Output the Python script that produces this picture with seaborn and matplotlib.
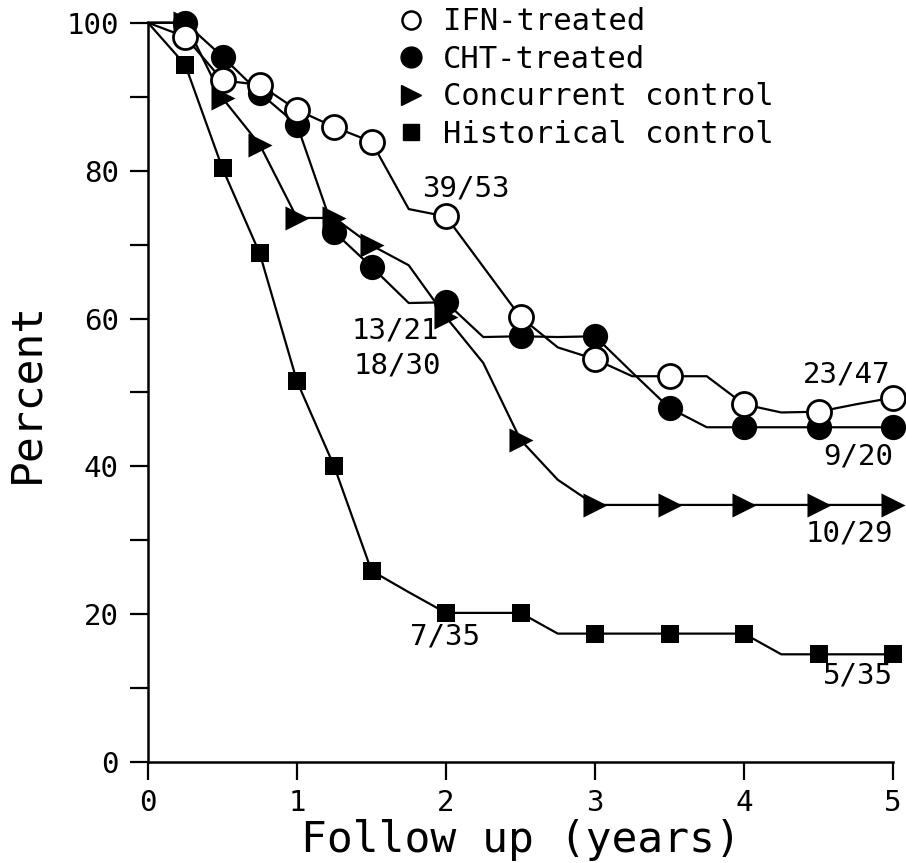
import matplotlib
matplotlib.use("Agg")
import matplotlib.pyplot as plt
from matplotlib.lines import Line2D
import numpy as np
import pandas as pd
import seaborn as sns

# ---- data ----
years = [0, 0.25, 0.5, 0.75, 1, 1.25, 1.5, 1.75, 2, 2.25, 2.5, 2.75,
         3, 3.25, 3.5, 3.75, 4, 4.25, 4.5, 4.75, 5]
ifn = [100, 98.1, 92.2, 91.6, 88.2, 85.9, 83.9, 74.8, 73.8, 67.0, 60.2, 56.1,
       54.5, 52.2, 52.2, 52.2, 48.4, 47.3, 47.4, 48.4, 49.3]
cht = [100, 100, 95.4, 90.5, 86.2, 71.7, 67.0, 62.1, 62.2, 57.5, 57.6, 57.5,
       57.6, 52.7, 47.9, 45.3, 45.3, 45.3, 45.3, 45.3, 45.3]
concurrent = [100, 100, 89.8, 83.5, 73.6, 73.6, 69.9, 67.2, 60.2, 54.0, 43.6, 38.2,
              34.8, 34.8, 34.8, 34.8, 34.8, 34.8, 34.8, 34.8, 34.8]
historical = [100, 94.3, 80.3, 68.8, 51.5, 40.0, 25.9, 23.0, 20.2, 20.2, 20.2, 17.4,
              17.4, 17.4, 17.4, 17.4, 17.4, 14.6, 14.6, 14.6, 14.6]
# which time points carry a plotted symbol
marked = [False, True, True, True, True, True, True, False, True, False, True, False,
          True, False, True, False, True, False, True, False, True]

series_names = ["IFN-treated", "CHT-treated", "Concurrent control", "Historical control"]
annot_labels = ["39/53", "13/21", "18/30", "23/47", "9/20", "10/29", "7/35", "5/35"]
x_ticks = [0, 1, 2, 3, 4, 5]
y_ticks = [0, 20, 40, 60, 80, 100]

# ---- build long table ----
frames = []
for name, vals in zip(series_names, [ifn, cht, concurrent, historical]):
    frames.append(pd.DataFrame({"years": years, "pct": vals, "series": name,
                                "marked": marked}))
df = pd.concat(frames, ignore_index=True)

sns.set_theme(style="ticks")
plt.rcParams["font.family"] = ["DejaVu Sans Mono", "DejaVu Sans"]
plt.rcParams["text.color"] = "black"
plt.rcParams["axes.labelcolor"] = "black"
plt.rcParams["xtick.color"] = "black"
plt.rcParams["ytick.color"] = "black"

fig = plt.figure(figsize=(9.06, 8.63), dpi=100)
ax = fig.add_axes([148 / 906, 1 - 762.3 / 863, 745 / 906, (762.3 - 22.7) / 863])

styles = {
    "Historical control": dict(marker="s", s=170, fc="black", ec="black", lw=0),
    "Concurrent control": dict(marker=">", s=300, fc="black", ec="black", lw=0),
    "CHT-treated": dict(marker="o", s=330, fc="black", ec="black", lw=0),
    "IFN-treated": dict(marker="o", s=300, fc="white", ec="black", lw=2.0),
}
order = ["Historical control", "Concurrent control", "CHT-treated", "IFN-treated"]
for i, name in enumerate(order):
    sub = df[df.series == name]
    sns.lineplot(data=sub, x="years", y="pct", ax=ax, color="black", lw=1.6,
                 estimator=None, sort=False, legend=False, zorder=2 + 2 * i)
    st = styles[name]
    sns.scatterplot(data=sub[sub.marked], x="years", y="pct", ax=ax,
                    marker=st["marker"], s=st["s"], color=st["fc"],
                    edgecolor=st["ec"], linewidth=st["lw"], legend=False,
                    zorder=3 + 2 * i)

for coll in ax.collections:
    coll.set_clip_on(False)
for ln in ax.lines:
    ln.set_clip_on(False)

ax.set_xlim(0, 5)
ax.set_ylim(0, 100)
ax.set_xticks(x_ticks)
ax.set_yticks(y_ticks)
ax.set_yticks([10, 30, 50, 70, 90], minor=True)
ax.tick_params(axis="both", which="both", direction="out", length=13, width=1.6,
               labelsize=21, color="black", labelcolor="black")
ax.tick_params(axis="y", pad=8)
ax.tick_params(axis="x", pad=6)
sns.despine(ax=ax)
for sp in ["left", "bottom"]:
    ax.spines[sp].set_linewidth(1.8)
    ax.spines[sp].set_color("black")

ax.set_xlabel("Follow up (years)", fontsize=31, labelpad=2, color="black")
ax.set_ylabel("Percent", fontsize=31, labelpad=14, color="black")

# ---- annotations ----
annot_pos = [(2.13, 77.6, "center"), (1.66, 58.4, "center"), (1.67, 53.7, "center"),
             (4.69, 52.4, "center"), (5.0, 41.4, "right"), (5.0, 31.0, "right"),
             (1.99, 17.0, "center"), (5.0, 11.8, "right")]
for lab, (x, y, ha) in zip(annot_labels, annot_pos):
    ax.text(x, y, lab, ha=ha, va="center", fontsize=21, color="black")

# ---- legend ----
handles = [
    Line2D([], [], ls="none", marker="o", ms=13, mfc="white", mec="black", mew=1.8),
    Line2D([], [], ls="none", marker="o", ms=15, mfc="black", mec="black"),
    Line2D([], [], ls="none", marker=">", ms=15, mfc="black", mec="black"),
    Line2D([], [], ls="none", marker="s", ms=11, mfc="black", mec="black"),
]
leg = fig.legend(handles, series_names, loc="upper left",
                 bbox_to_anchor=(380 / 906, 1 + 8 / 863), frameon=False,
                 fontsize=22, handlelength=1.0, handletextpad=0.55,
                 labelspacing=0.28, borderpad=0.0)

fig.savefig("out.png", dpi=100)
